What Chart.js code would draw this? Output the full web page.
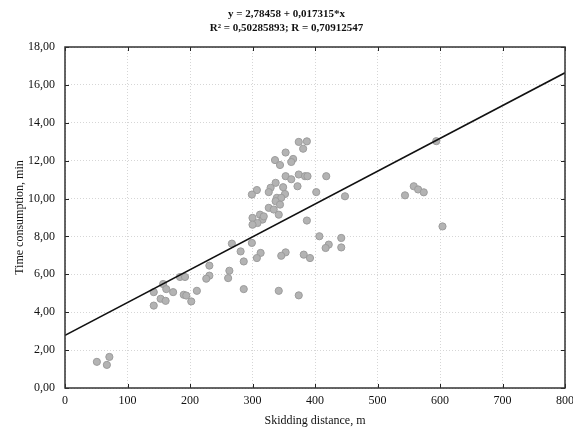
<!DOCTYPE html>
<html><head><meta charset="utf-8">
<script src="https://cdn.jsdelivr.net/npm/chart.js@4/dist/chart.umd.min.js"></script>
<style>html,body{margin:0;padding:0;background:#fff}#wrap{width:573px;height:430px}</style>
</head><body><div id="wrap"><canvas id="c" width="573" height="430"></canvas></div>
<script>
// Skidding distance (m) of each observation
const distance = [51,71,67,267,281,286,231,231,226,263,261,184,192,157,162,142,173,286,211,153,161,190,194,202,142,
  299,313,307,353,346,382,392,342,374,407,442,422,417,442,387,594,558,565,574,544,448,604,
  374,387,381,353,336,344,365,362,353,362,374,384,388,418,372,337,329,349,326,352,307,299,402,
  339,346,337,344,326,334,312,342,300,316,308,318,300];
// Time consumption (min) of each observation
const timeMin = [1.38,1.64,1.22,7.62,7.21,6.68,6.46,5.93,5.77,6.19,5.80,5.86,5.86,5.49,5.22,5.06,5.06,5.22,5.13,4.71,4.60,4.92,4.88,4.57,4.35,
  7.66,7.13,6.86,7.16,6.98,7.04,6.86,5.13,4.89,8.01,7.92,7.57,7.39,7.42,8.84,13.03,10.65,10.48,10.33,10.17,10.12,8.53,
  12.99,13.02,12.63,12.43,12.03,11.77,12.09,11.93,11.18,11.02,11.27,11.18,11.18,11.18,10.65,10.83,10.57,10.60,10.34,10.24,10.45,10.21,10.34,
  10.04,10.04,9.86,9.68,9.51,9.42,9.15,9.15,8.98,8.89,8.71,9.06,8.62];
// Fitted regression line end points
const fitX = [0, 800];
const fitY = [2.78, 16.64];
const titleLines = ['y = 2,78458 + 0,017315*x', 'R\u00B2 = 0,50285893; R = 0,70912547'];
const xTitle = 'Skidding distance, m';
const yTitle = 'Time consumption, min';

const pts = distance.map((d, i) => ({x: d, y: timeMin[i]}));
const fit = fitX.map((d, i) => ({x: d, y: fitY[i]}));

const FONT = "'Liberation Serif', 'Times New Roman', serif";

const frame = {
  id: 'frame',
  afterDraw(chart) {
    const {ctx, chartArea: a, scales: {x, y}} = chart;
    ctx.save();
    ctx.strokeStyle = '#222';
    ctx.lineWidth = 1;
    ctx.beginPath();
    x.ticks.forEach(t => {
      const px = Math.round(x.getPixelForValue(t.value)) + 0.5;
      ctx.moveTo(px, a.bottom); ctx.lineTo(px, a.bottom - 4);
      ctx.moveTo(px, a.top); ctx.lineTo(px, a.top + 4);
    });
    y.ticks.forEach(t => {
      const py = Math.round(y.getPixelForValue(t.value)) + 0.5;
      ctx.moveTo(a.left, py); ctx.lineTo(a.left + 4, py);
      ctx.moveTo(a.right, py); ctx.lineTo(a.right - 4, py);
    });
    ctx.stroke();
    ctx.lineWidth = 1.5;
    ctx.strokeStyle = '#333';
    ctx.strokeRect(a.left, a.top, a.right - a.left, a.bottom - a.top);
    ctx.restore();
  }
};

new Chart(document.getElementById('c'), {
  type: 'scatter',
  data: {
    datasets: [
      {type: 'line', data: fit, borderColor: '#111', borderWidth: 1.6, pointRadius: 0, fill: false, order: 0},
      {data: pts, backgroundColor: '#b3b3b3', borderColor: '#9c9c9c', borderWidth: 1, pointRadius: 3.6, order: 1}
    ]
  },
  options: {
    responsive: false,
    animation: false,
    devicePixelRatio: 1,
    layout: {padding: {left: 0, right: 0, top: 0, bottom: 0}},
    plugins: {
      legend: {display: false},
      tooltip: {enabled: false},
      title: {
        display: true, text: titleLines, color: '#111',
        font: {family: FONT, size: 11, lineHeight: 1.2},
        padding: {top: 8, bottom: 12.6}
      }
    },
    scales: {
      x: {
        type: 'linear', min: 0, max: 800,
        afterFit(s) { s.height = 42; s.paddingRight = 8; },
        ticks: {stepSize: 100, color: '#111', font: {family: FONT, size: 12}, padding: 6, maxRotation: 0,
          callback: v => String(v)},
        grid: {color: '#d6d6d6', drawTicks: false, lineWidth: 1},
        border: {display: false, dash: [1, 2]},
        title: {display: true, text: xTitle, color: '#111', font: {family: FONT, size: 12, lineHeight: 1.2}, padding: {top: 0, bottom: 2}}
      },
      y: {
        type: 'linear', min: 0, max: 18,
        afterFit(s) { s.width = 65; },
        ticks: {stepSize: 2, color: '#111', font: {family: FONT, size: 12}, padding: 10,
          callback: v => v.toFixed(2).replace('.', ',')},
        grid: {color: '#d6d6d6', drawTicks: false, lineWidth: 1},
        border: {display: false, dash: [1, 2]},
        title: {display: true, text: yTitle, color: '#111', font: {family: FONT, size: 12, lineHeight: 1.2}, padding: {top: 13, bottom: 0}}
      }
    }
  },
  plugins: [frame]
});
</script>
</body></html>
